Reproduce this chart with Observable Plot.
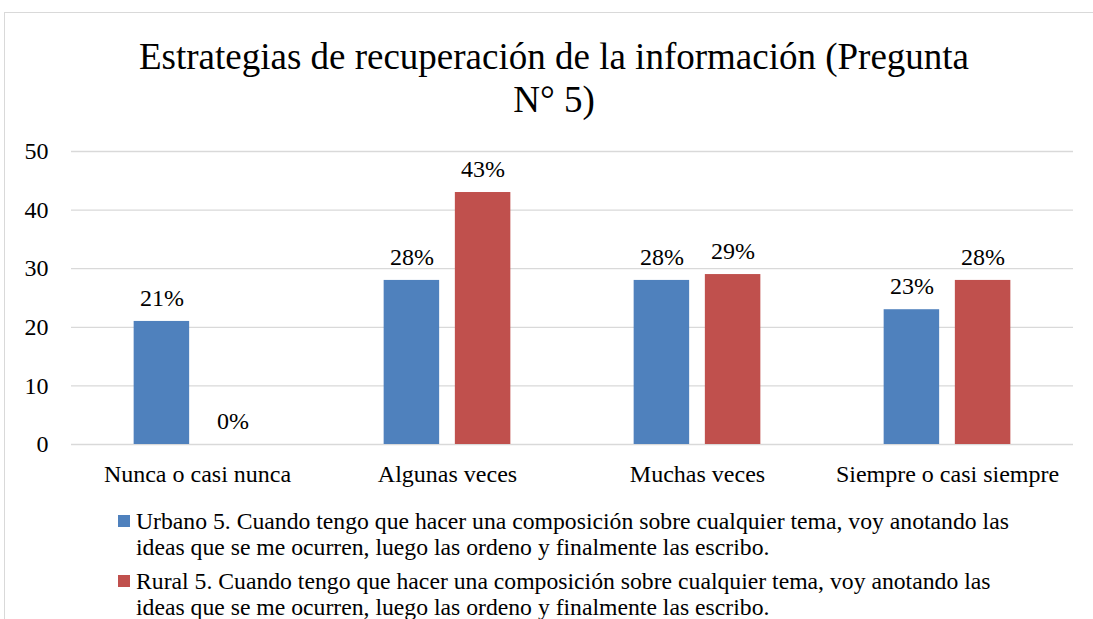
<!DOCTYPE html>
<html>
<head>
<meta charset="utf-8">
<script src="https://cdn.jsdelivr.net/npm/d3@7"></script>
<script src="https://cdn.jsdelivr.net/npm/@observablehq/plot@0.6"></script>
<style>
  html, body { margin: 0; padding: 0; background: #fff; width: 1093px; height: 619px; overflow: hidden; }
  body { position: relative; color: #000; }
  #frame { position: absolute; left: 4px; top: 12px; width: 1200px; height: 700px; border-top: 1px solid #d9d9d9; border-left: 1px solid #d9d9d9; }
  #title { position: absolute; left: 0; width: 1108px; top: 35px; text-align: center; font-size: 37px; line-height: 43px; }
  #chart { position: absolute; left: 0; top: 0; }
  #legend { position: absolute; left: 118px; top: 508px; font-size: 23.7px; line-height: 26px; }
  .item { position: relative; padding-left: 18px; width: 895px; margin-bottom: 8px; }
  .sw { position: absolute; left: 0; top: 7px; width: 12px; height: 12px; }
</style>
</head>
<body>
<div id="frame"></div>
<div id="title">Estrategias de recuperación de la información (Pregunta<br>N° 5)</div>
<div id="chart"></div>
<div id="legend"></div>
<script>
const FONT = "Liberation Serif, Times New Roman, serif";
document.getElementById("title").style.fontFamily = FONT;
document.getElementById("legend").style.fontFamily = FONT;

const categories = ["Nunca o casi nunca", "Algunas veces", "Muchas veces", "Siempre o casi siempre"];
const seriesNames = [
  "Urbano 5. Cuando tengo que hacer una composición sobre cualquier tema, voy anotando las ideas que se me ocurren, luego las ordeno y finalmente las escribo.",
  "Rural 5. Cuando tengo que hacer una composición sobre cualquier tema, voy anotando las ideas que se me ocurren, luego las ordeno y finalmente las escribo."
];
const urbano = [21, 28, 28, 23];
const rural = [0, 43, 29, 28];
const yTicks = [0, 10, 20, 30, 40, 50];
const colors = ["#4F81BD", "#C0504D"];

const urbanoRows = categories.map((c, i) => ({category: c, value: urbano[i]}));
const ruralRows = categories.map((c, i) => ({category: c, value: rural[i]}));

const inset = 97.25;
const off = 35.6;

const chart = Plot.plot({
  width: 1093,
  height: 500,
  marginLeft: 71,
  marginRight: 20,
  marginTop: 151,
  marginBottom: 56,
  style: {fontFamily: FONT, fontSize: "24px", color: "#000", background: "transparent"},
  x: {type: "band", domain: categories, padding: 0, label: null},
  y: {domain: [0, 50], label: null},
  marks: [
    Plot.gridY(yTicks, {stroke: "#d9d9d9", strokeOpacity: 1, strokeWidth: 1.3}),
    Plot.axisY(yTicks, {tickSize: 0, tickPadding: 23, fontSize: 24, fill: "#000", label: null}),
    Plot.axisX({tickSize: 0, tickPadding: 20, fontSize: 24, fill: "#000", label: null}),
    Plot.barY(urbanoRows, {x: "category", y: "value", fill: colors[0], insetLeft: inset, insetRight: inset, dx: -off}),
    Plot.barY(ruralRows, {x: "category", y: "value", fill: colors[1], insetLeft: inset, insetRight: inset, dx: off}),
    Plot.text(urbanoRows, {x: "category", y: "value", text: d => d.value + "%", dx: -off, dy: -23, fontSize: 24, fill: "#000"}),
    Plot.text(ruralRows, {x: "category", y: "value", text: d => d.value + "%", dx: off, dy: -23, fontSize: 24, fill: "#000"})
  ]
});
document.getElementById("chart").appendChild(chart);

const legend = document.getElementById("legend");
seriesNames.forEach((name, i) => {
  const item = document.createElement("div");
  item.className = "item";
  const sw = document.createElement("span");
  sw.className = "sw";
  sw.style.background = colors[i];
  item.appendChild(sw);
  item.appendChild(document.createTextNode(name));
  legend.appendChild(item);
});
</script>
</body>
</html>
